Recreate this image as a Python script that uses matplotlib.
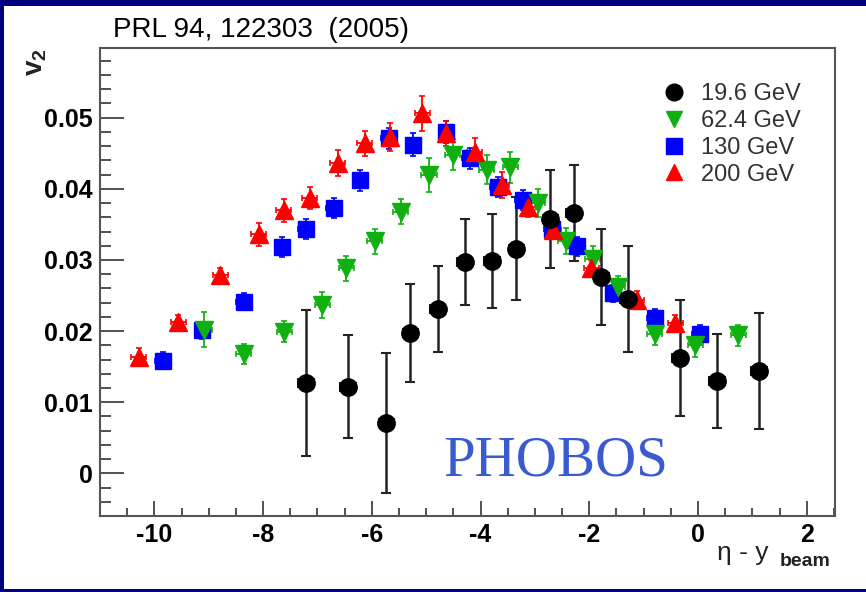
import matplotlib
matplotlib.use('Agg')
import matplotlib.pyplot as plt
from matplotlib.lines import Line2D
from matplotlib.patches import Rectangle
from matplotlib.ticker import MultipleLocator

plt.rcParams['font.family'] = ['Liberation Sans', 'DejaVu Sans']
plt.rcParams['mathtext.fontset'] = 'custom'
plt.rcParams['mathtext.rm'] = 'Liberation Sans'
plt.rcParams['mathtext.bf'] = 'Liberation Sans:bold'
plt.rcParams['mathtext.it'] = 'Liberation Sans:italic'

# 19.6 GeV
eta19 = [-7.21, -6.44, -5.73, -5.29, -4.79, -4.29, -3.79, -3.34, -2.72, -2.29, -1.78, -1.29, -0.34, 0.35, 1.12]
v19 = [0.0127, 0.0122, 0.0071, 0.0197, 0.0231, 0.0297, 0.0298, 0.0316, 0.0358, 0.0366, 0.0276, 0.0245, 0.0162, 0.0130, 0.0144]
err19 = [0.0102, 0.0072, 0.0098, 0.0069, 0.0060, 0.0061, 0.0066, 0.0073, 0.0069, 0.0068, 0.0068, 0.0074, 0.0082, 0.0066, 0.0082]

# 62.4 GeV
eta62 = [-9.08, -8.36, -7.61, -6.91, -6.47, -5.95, -5.47, -4.95, -4.51, -3.89, -3.45, -2.95, -2.43, -1.94, -1.48, -0.80, -0.05, 0.74]
v62 = [0.0202, 0.0168, 0.0199, 0.0237, 0.0288, 0.0326, 0.0368, 0.0419, 0.0448, 0.0427, 0.0430, 0.0380, 0.0327, 0.0301, 0.0262, 0.0196, 0.0180, 0.0194]
err62 = [0.0025, 0.0014, 0.0015, 0.0018, 0.0018, 0.0018, 0.0018, 0.0024, 0.0022, 0.0020, 0.0022, 0.0020, 0.0018, 0.0018, 0.0016, 0.0016, 0.0016, 0.0015]

# 130 GeV
eta130 = [-9.84, -9.12, -8.36, -7.65, -7.21, -6.70, -6.21, -5.69, -5.24, -4.63, -4.20, -3.68, -3.22, -2.69, -2.23, -1.56, -0.79, 0.03]
v130 = [0.0158, 0.0201, 0.0241, 0.0318, 0.0344, 0.0373, 0.0412, 0.0471, 0.0462, 0.0480, 0.0443, 0.0402, 0.0384, 0.0344, 0.0319, 0.0253, 0.0219, 0.0196]
err130 = [0.0012, 0.0012, 0.0012, 0.0014, 0.0014, 0.0014, 0.0015, 0.0015, 0.0016, 0.0016, 0.0015, 0.0014, 0.0014, 0.0013, 0.0013, 0.0012, 0.0012, 0.0012]

# 200 GeV
eta200 = [-10.29, -9.56, -8.79, -8.08, -7.62, -7.14, -6.63, -6.13, -5.67, -5.07, -4.63, -4.11, -3.61, -3.12, -2.66, -1.96, -1.13, -0.42]
v200 = [0.0164, 0.0213, 0.0279, 0.0336, 0.0370, 0.0387, 0.0436, 0.0464, 0.0473, 0.0506, 0.0478, 0.0452, 0.0405, 0.0375, 0.0342, 0.0288, 0.0244, 0.0211]
err200 = [0.0012, 0.0010, 0.0010, 0.0016, 0.0016, 0.0016, 0.0018, 0.0018, 0.0020, 0.0024, 0.0018, 0.0020, 0.0018, 0.0014, 0.0012, 0.0012, 0.0012, 0.0012]

labels = ['19.6 GeV', '62.4 GeV', '130 GeV', '200 GeV']
xticks = [-10, -8, -6, -4, -2, 0, 2]
xtick_labels = ['-10', '-8', '-6', '-4', '-2', '0', '2']
yticks = [0, 0.01, 0.02, 0.03, 0.04, 0.05]
ytick_labels = ['0', '0.01', '0.02', '0.03', '0.04', '0.05']

green = '#10b010'
navy = '#000080'

fig = plt.figure(figsize=(8.66, 5.92), dpi=100, facecolor='white')
# navy frame on the top, left and bottom edges of the slide
for (x0, y0, w, h) in [(0, 0, 866, 3), (0, 586, 866, 6), (0, 0, 4, 592)]:
    fig.add_artist(Rectangle((x0 / 866, y0 / 592), w / 866, h / 592, transform=fig.transFigure,
                             facecolor=navy, edgecolor='none', zorder=0))

ax = fig.add_axes([100 / 866, 76 / 592, 735 / 866, 468 / 592])
ax.set_xlim(-11, 2.52)
ax.set_ylim(-0.006, 0.0598)

# draw order: blue, green, red, black on top
ebar = dict(xerr=0.14, elinewidth=1.3, capsize=2.5, capthick=1.2)
ax.errorbar(eta130, v130, yerr=err130, fmt='s', color='blue', ms=11.5, **ebar)
ax.errorbar(eta62, v62, yerr=err62, fmt='v', color=green, ms=12.5, **ebar)
ax.errorbar(eta200, v200, yerr=err200, fmt='^', color='red', ms=12.5, **ebar)
ax.errorbar(eta19, v19, yerr=err19, xerr=0.14, fmt='o', color='black', ms=12.5,
            ecolor='#222222', elinewidth=1.8, capsize=3.5, capthick=1.5)

ax.set_xticks(xticks)
ax.set_xticklabels(xtick_labels, fontsize=18, fontweight='bold')
ax.set_yticks(yticks)
ax.set_yticklabels(ytick_labels, fontsize=18, fontweight='bold')
ax.xaxis.set_minor_locator(MultipleLocator(0.5))
ax.yaxis.set_minor_locator(MultipleLocator(0.002))
ax.tick_params(axis='both', which='both', direction='in', top=False, right=False,
               color='#444444', width=1.3)
ax.tick_params(axis='y', which='major', length=17, pad=5)
ax.tick_params(axis='y', which='minor', length=8)
ax.tick_params(axis='x', which='major', length=11, pad=5)
ax.tick_params(axis='x', which='minor', length=5.5)
for s in ax.spines.values():
    s.set_color('#555555')
    s.set_linewidth(1.5)

handles = [Line2D([], [], ls='none', marker='o', color='black', ms=12),
           Line2D([], [], ls='none', marker='v', color=green, ms=12),
           Line2D([], [], ls='none', marker='s', color='blue', ms=11),
           Line2D([], [], ls='none', marker='^', color='red', ms=12)]
leg = ax.legend(handles, labels, loc='upper left', bbox_to_anchor=(0.7646, 0.9245),
                frameon=False, fontsize=17, handlelength=1.0, handletextpad=0.65,
                labelspacing=0.2, borderpad=0, borderaxespad=0)
for t in leg.get_texts():
    t.set_color('#333333')

fig.text(556 / 866, 1 - 462 / 592, 'PHOBOS', family=['Liberation Serif', 'DejaVu Serif'],
         fontsize=41, color='#3a5bd0', ha='center', va='center')

fig.text(113 / 866, 1 - 30 / 592, 'PRL 94, 122303  (2005)', fontsize=20,
         ha='left', va='center', color='black')
fig.text(36 / 866, 1 - 62 / 592, r'$\mathbf{v_2}$', fontsize=20, rotation=90,
         ha='center', va='center', color='#222222')
fig.text(717 / 866, 1 - 553 / 592, 'η - y', fontsize=19, ha='left', va='center',
         color='#222222')
fig.text(780 / 866, 1 - 562 / 592, 'beam', fontsize=14, fontweight='bold',
         ha='left', va='center', color='#222222')

fig.savefig('out.png', dpi=100, facecolor=fig.get_facecolor())
